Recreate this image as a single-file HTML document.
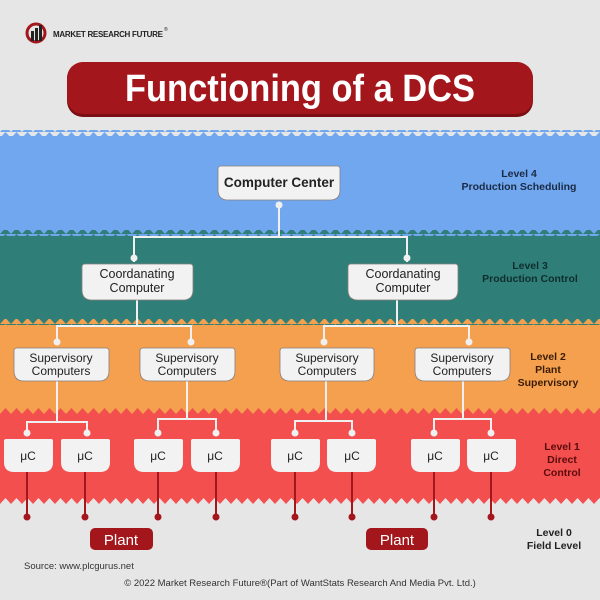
<!DOCTYPE html>
<html><head><meta charset="utf-8"><style>
html,body{margin:0;padding:0;background:#e6e6e6}
svg{display:block}
text{font-family:"Liberation Sans",sans-serif}
</style></head><body>
<svg width="600" height="600" viewBox="0 0 600 600" xmlns="http://www.w3.org/2000/svg">
<defs>
<pattern id="pb" width="11" height="6" patternUnits="userSpaceOnUse"><polygon points="0,6 5.5,0 11,6" fill="#70a7ef"/></pattern>
<pattern id="pt" width="11" height="6" patternUnits="userSpaceOnUse"><polygon points="0,6 5.5,0 11,6" fill="#2f7f78"/></pattern>
<pattern id="po" width="11" height="6" patternUnits="userSpaceOnUse"><polygon points="0,6 5.5,0 11,6" fill="#f4a04e"/></pattern>
<pattern id="pr" width="11" height="6" patternUnits="userSpaceOnUse"><polygon points="0,6 5.5,0 11,6" fill="#f34f4f"/></pattern>
<pattern id="pg" width="11" height="6" patternUnits="userSpaceOnUse"><polygon points="0,6 5.5,0 11,6" fill="#e6e6e6"/></pattern>
</defs>
<rect width="600" height="600" fill="#e6e6e6"/>
<rect y="136" width="600" height="100" fill="#70a7ef"/><rect y="130" width="600" height="6" fill="url(#pb)"/>
<rect y="236" width="600" height="89" fill="#2f7f78"/><rect y="230" width="600" height="6" fill="url(#pt)"/>
<rect y="325" width="600" height="89" fill="#f4a04e"/><rect y="319" width="600" height="6" fill="url(#po)"/>
<rect y="414" width="600" height="90" fill="#f34f4f"/><rect y="408" width="600" height="6" fill="url(#pr)"/>
<rect y="504" width="600" height="96" fill="#e6e6e6"/><rect y="498" width="600" height="6" fill="url(#pg)"/>

<!-- logo -->
<circle cx="36" cy="33" r="9" fill="none" stroke="#a3161c" stroke-width="3"/>
<rect x="31" y="31" width="3" height="10" fill="#222"/><rect x="35" y="28" width="3" height="13" fill="#222"/><rect x="39" y="25" width="3" height="16" fill="#222"/>
<text x="53" y="37" font-size="8" font-weight="bold" fill="#222" textLength="110" lengthAdjust="spacing">MARKET RESEARCH FUTURE</text>
<text x="164" y="31" font-size="5" fill="#222">®</text>

<!-- title -->
<rect x="67" y="63" width="466" height="54" rx="16" fill="#7a0e12"/>
<rect x="67" y="62" width="466" height="52" rx="16" fill="#a3161c"/>
<text x="300" y="101" font-size="38" font-weight="bold" fill="#fff" text-anchor="middle" textLength="350" lengthAdjust="spacingAndGlyphs">Functioning of a DCS</text>

<!-- connectors light -->
<g stroke="#f0f0f0" stroke-width="2" fill="none">
<path d="M279 205V237M134 262V237H407V262"/>
<path d="M137 300V326M57 342V326H191V342"/>
<path d="M397 300V326M324 342V326H469V342"/>
<path d="M57 381V422M27 433V422H87V433"/>
<path d="M187 381V419M158 433V419H216V433"/>
<path d="M326 381V421M295 433V421H352V433"/>
<path d="M463 381V419M434 433V419H491V433"/>
</g>
<g fill="#f0f0f0">
<circle cx="279" cy="205" r="3.5"/><circle cx="134" cy="258" r="3.5"/><circle cx="407" cy="258" r="3.5"/>
<circle cx="57" cy="342" r="3.5"/><circle cx="191" cy="342" r="3.5"/><circle cx="324" cy="342" r="3.5"/><circle cx="469" cy="342" r="3.5"/>
<circle cx="27" cy="433" r="3.5"/><circle cx="87" cy="433" r="3.5"/><circle cx="158" cy="433" r="3.5"/><circle cx="216" cy="433" r="3.5"/>
<circle cx="295" cy="433" r="3.5"/><circle cx="352" cy="433" r="3.5"/><circle cx="434" cy="433" r="3.5"/><circle cx="491" cy="433" r="3.5"/>
</g>
<!-- dark red field lines -->
<g stroke="#a3161c" stroke-width="2">
<path d="M27 472V517M85 472V517M158 472V517M216 472V517M295 472V517M352 472V517M434 472V517M491 472V517"/>
</g>
<g fill="#a3161c">
<circle cx="27" cy="517" r="3.5"/><circle cx="85" cy="517" r="3.5"/><circle cx="158" cy="517" r="3.5"/><circle cx="216" cy="517" r="3.5"/>
<circle cx="295" cy="517" r="3.5"/><circle cx="352" cy="517" r="3.5"/><circle cx="434" cy="517" r="3.5"/><circle cx="491" cy="517" r="3.5"/>
</g>

<!-- boxes -->
<g fill="#f2f2f2" stroke="#8a7f7f" stroke-width="0.8">
<path d="M221 166H337Q340 166 340 169V190Q340 200 330 200H228Q218 200 218 190V169Q218 166 221 166Z"/>
<path d="M85 264H190Q193 264 193 267V290Q193 300 183 300H92Q82 300 82 290V267Q82 264 85 264Z"/>
<path d="M351 264H455Q458 264 458 267V290Q458 300 448 300H358Q348 300 348 290V267Q348 264 351 264Z"/>
<path d="M17 348H106Q109 348 109 351V371Q109 381 99 381H24Q14 381 14 371V351Q14 348 17 348Z"/>
<path d="M143 348H232Q235 348 235 351V371Q235 381 225 381H150Q140 381 140 371V351Q140 348 143 348Z"/>
<path d="M283 348H371Q374 348 374 351V371Q374 381 364 381H290Q280 381 280 371V351Q280 348 283 348Z"/>
<path d="M418 348H507Q510 348 510 351V371Q510 381 500 381H425Q415 381 415 371V351Q415 348 418 348Z"/>
</g>
<g fill="#f2f2f2">
<path d="M6 439H51Q53 439 53 441V462Q53 472 43 472H14Q4 472 4 462V441Q4 439 6 439Z"/>
<path d="M63 439H108Q110 439 110 441V462Q110 472 100 472H71Q61 472 61 462V441Q61 439 63 439Z"/>
<path d="M136 439H181Q183 439 183 441V462Q183 472 173 472H144Q134 472 134 462V441Q134 439 136 439Z"/>
<path d="M193 439H238Q240 439 240 441V462Q240 472 230 472H201Q191 472 191 462V441Q191 439 193 439Z"/>
<path d="M273 439H318Q320 439 320 441V462Q320 472 310 472H281Q271 472 271 462V441Q271 439 273 439Z"/>
<path d="M329 439H374Q376 439 376 441V462Q376 472 366 472H337Q327 472 327 462V441Q327 439 329 439Z"/>
<path d="M413 439H458Q460 439 460 441V462Q460 472 450 472H421Q411 472 411 462V441Q411 439 413 439Z"/>
<path d="M469 439H514Q516 439 516 441V462Q516 472 506 472H477Q467 472 467 462V441Q467 439 469 439Z"/>
</g>
<g font-size="12" fill="#222" text-anchor="middle">
<text x="279" y="187" font-size="13.5" font-weight="bold">Computer Center</text>
<text x="137" y="278" font-size="12.5">Coordanating</text><text x="137" y="292" font-size="12.5">Computer</text>
<text x="403" y="278" font-size="12.5">Coordanating</text><text x="403" y="292" font-size="12.5">Computer</text>
<text x="61" y="362">Supervisory</text><text x="61" y="375">Computers</text>
<text x="187" y="362">Supervisory</text><text x="187" y="375">Computers</text>
<text x="327" y="362">Supervisory</text><text x="327" y="375">Computers</text>
<text x="462" y="362">Supervisory</text><text x="462" y="375">Computers</text>
<text x="28" y="460">μC</text><text x="85" y="460">μC</text><text x="158" y="460">μC</text><text x="215" y="460">μC</text>
<text x="295" y="460">μC</text><text x="352" y="460">μC</text><text x="435" y="460">μC</text><text x="491" y="460">μC</text>
</g>
<!-- plants -->
<rect x="90" y="528" width="63" height="22" rx="5" fill="#a3161c"/>
<rect x="366" y="528" width="62" height="22" rx="5" fill="#a3161c"/>
<text x="121" y="545" font-size="15" fill="#fff" text-anchor="middle">Plant</text>
<text x="397" y="545" font-size="15" fill="#fff" text-anchor="middle">Plant</text>

<!-- level labels -->
<g font-size="10.5" font-weight="bold" text-anchor="middle">
<text x="519" y="177" fill="#1b2a44">Level 4</text><text x="519" y="190" fill="#1b2a44">Production Scheduling</text>
<text x="530" y="269" fill="#0f2d2d">Level 3</text><text x="530" y="282" fill="#0f2d2d">Production Control</text>
<text x="548" y="360" fill="#3a1c05">Level 2</text><text x="548" y="373" fill="#3a1c05">Plant</text><text x="548" y="386" fill="#3a1c05">Supervisory</text>
<text x="562" y="450" fill="#5a0b0b">Level 1</text><text x="562" y="463" fill="#5a0b0b">Direct</text><text x="562" y="476" fill="#5a0b0b">Control</text>
<text x="554" y="536" fill="#222">Level 0</text><text x="554" y="549" fill="#222">Field Level</text>
</g>
<text x="24" y="569" font-size="9.5" fill="#333">Source: www.plcgurus.net</text>
<text x="300" y="586" font-size="9.5" fill="#333" text-anchor="middle">© 2022 Market Research Future®(Part of WantStats Research And Media Pvt. Ltd.)</text>
</svg>
</body></html>
